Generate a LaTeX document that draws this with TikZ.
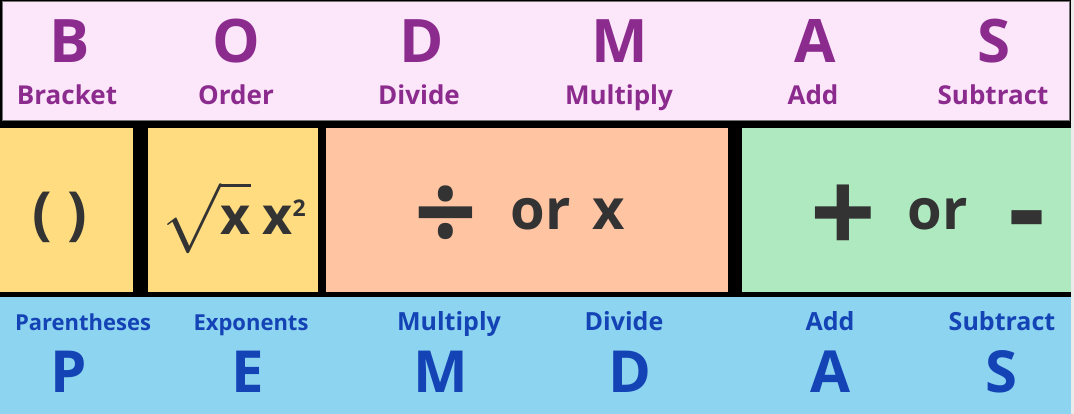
\RequirePackage{fix-cm}
\documentclass[tikz,border=0pt]{standalone}
\usepackage{fontspec}
\setmainfont{Open Sans}
\pgfdeclarelayer{background}
\pgfdeclarelayer{foreground}
\pgfsetlayers{background,main,foreground}

\definecolor{bandpink}{HTML}{FCE6F9}
\definecolor{bodpurple}{HTML}{8C2B8E}
\definecolor{cellyellow}{HTML}{FFDC80}
\definecolor{cellorange}{HTML}{FFC4A2}
\definecolor{cellgreen}{HTML}{AEE9C0}
\definecolor{bandblue}{HTML}{8CD4F0}
\definecolor{pemblue}{HTML}{1443B6}
\definecolor{symgray}{HTML}{333333}

\tikzset{
  cell/.style={anchor=north west, inner sep=0pt, outer sep=0pt},
  topletter/.style={anchor=base, inner sep=0pt, text=bodpurple, font=\fontsize{60}{60}\selectfont\bfseries},
  topword/.style={anchor=base, inner sep=0pt, text=bodpurple, font=\fontsize{26}{26}\selectfont\bfseries},
  botletter/.style={anchor=base, inner sep=0pt, text=pemblue, font=\fontsize{58}{58}\selectfont\bfseries},
  botword/.style={anchor=base, inner sep=0pt, text=pemblue, font=\fontsize{25}{25}\selectfont\bfseries},
  smallword/.style={botword, font=\fontsize{22}{22}\selectfont\bfseries},
  symb/.style={anchor=base, inner sep=0pt, text=symgray, font=\bfseries}
}

\begin{document}
\begin{tikzpicture}[x=1pt,y=-1pt]

\useasboundingbox (0,0) rectangle (1074,414);

\begin{pgfonlayer}{background}
\fill[black!8] (0,0) rectangle (1074,414);
\fill[black] (0,0) rectangle (1071,414);
\end{pgfonlayer}

\node[cell, fill=bandpink, draw=black!55, line width=1pt, minimum width=1067pt, minimum height=119pt] (bodmas) at (2,2) {};
\node[cell, fill=cellyellow, minimum width=133pt, minimum height=164pt] (brk) at (0,128) {};
\node[cell, fill=cellyellow, minimum width=170pt, minimum height=164pt] (ord) at (148,128) {};
\node[cell, fill=cellorange, minimum width=402pt, minimum height=164pt] (muldiv) at (326,128) {};
\node[cell, fill=cellgreen, minimum width=329pt, minimum height=164pt] (addsub) at (742,128) {};
\node[cell, fill=bandblue, minimum width=1071pt, minimum height=117pt] (pemdas) at (0,297) {};

\node[topletter] (b) at (70,63) {B};
\node[topletter] (o) at (236,63) {O};
\node[topletter] (d) at (422,63) {D};
\node[topletter] (m) at (620,63) {M};
\node[topletter] (a) at (815,63) {A};
\node[topletter] (s) at (994,63) {S};

\node[topword] (bracket) at (67,105) {Bracket};
\node[topword] (order) at (236,105) {Order};
\node[topword] (divide) at (419,105) {Divide};
\node[topword] (multiply) at (619,105) {Multiply};
\node[topword] (add) at (813,105) {Add};
\node[topword] (subtract) at (993,105) {Subtract};

\node[symb, font=\fontsize{58}{58}\selectfont\bfseries] (paren) at (60,234) {(\hspace{16pt})};
\node[symb, font=\fontsize{52}{52}\selectfont\bfseries] (root) at (234,235) {{\fontsize{70}{70}\selectfont$\sqrt{\mbox{\fontsize{52}{52}\selectfont x}}$}\hspace{12pt}x\raisebox{18pt}{\fontsize{23}{23}\selectfont 2}};
\node[symb, font=\fontsize{110}{110}\selectfont\bfseries] (divsym) at (446,252) {÷};
\node[symb, font=\fontsize{56}{56}\selectfont\bfseries] (orx) at (568,230) {or\hspace{22pt}x};
\node[symb, font=\fontsize{115}{115}\selectfont\bfseries] (plussym) at (843,254) {+};
\node[symb, font=\fontsize{56}{56}\selectfont\bfseries] (orsym) at (938,230) {or};
\node[symb, font=\fontsize{115}{115}\selectfont\bfseries] (minussym) at (1027,249) {-};

\node[smallword] (parentheses) at (83,330) {Parentheses};
\node[smallword] (exponents) at (251,330) {Exponents};
\node[botword] (multiply2) at (449,330) {Multiply};
\node[botword] (divide2) at (624,330) {Divide};
\node[botword] (add2) at (830,330) {Add};
\node[botword] (subtract2) at (1002,330) {Subtract};

\node[botletter] (p) at (69,392) {P};
\node[botletter] (e) at (248,392) {E};
\node[botletter] (m2) at (441,392) {M};
\node[botletter] (d2) at (630,392) {D};
\node[botletter] (a2) at (830,392) {A};
\node[botletter] (s2) at (1001,392) {S};

\end{tikzpicture}
\end{document}
